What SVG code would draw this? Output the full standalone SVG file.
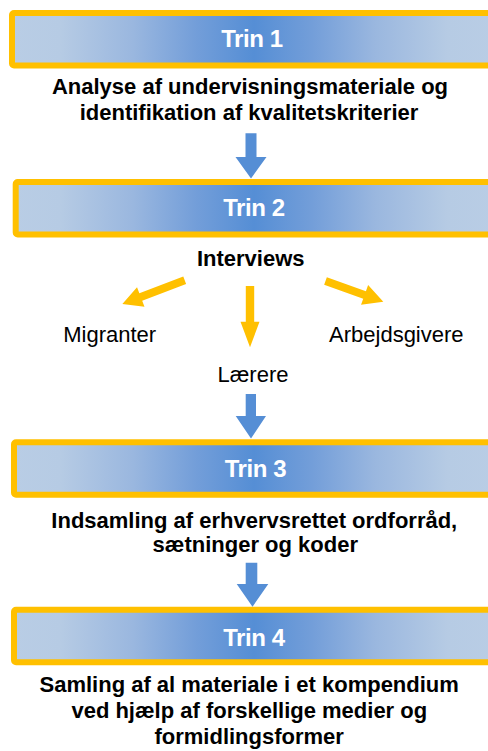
<svg xmlns="http://www.w3.org/2000/svg" width="488" height="751" viewBox="0 0 488 751">
<defs>
<linearGradient id="bar" gradientUnits="userSpaceOnUse" x1="12" y1="0" x2="496" y2="0">
<stop offset="0" stop-color="#b9cde5"/>
<stop offset="0.1" stop-color="#b6cbe4"/>
<stop offset="0.25" stop-color="#9ab7df"/>
<stop offset="0.38" stop-color="#739ed9"/>
<stop offset="0.5" stop-color="#558ed5"/>
<stop offset="0.62" stop-color="#739ed9"/>
<stop offset="0.75" stop-color="#9ab7df"/>
<stop offset="0.9" stop-color="#b6cbe4"/>
<stop offset="1" stop-color="#b9cde5"/>
</linearGradient>
<style>
.box{fill:url(#bar);stroke:#ffc000;stroke-width:6}
.ttl{font-family:"Liberation Sans",Arial,sans-serif;font-weight:bold;font-size:24px;fill:#ffffff;text-anchor:middle;letter-spacing:-0.4px}
.desc{font-family:"Liberation Sans",Arial,sans-serif;font-weight:bold;font-size:22px;fill:#000000;text-anchor:middle}
.lbl{font-family:"Liberation Sans",Arial,sans-serif;font-size:22px;fill:#000000;text-anchor:middle}
.blue{fill:#558ed5}
.orange{fill:#ffc000}
</style>
</defs>
<g id="trin1">
<rect class="box" x="12" y="13" width="490" height="52.5" rx="2"/>
<text class="ttl" x="252" y="47">Trin 1</text>
<text class="desc" x="250" y="94">Analyse af undervisningsmateriale og</text>
<text class="desc" x="249" y="119.5">identifikation af kvalitetskriterier</text>
</g>
<g id="trin2">
<rect class="box" x="15.7" y="182" width="490" height="52.5" rx="2"/>
<text class="ttl" x="254" y="215.5">Trin 2</text>
<text class="desc" x="250.7" y="266">Interviews</text>
</g>
<g id="migranter"><text class="lbl" x="109.7" y="341.5">Migranter</text></g>
<g id="laerere"><text class="lbl" x="253" y="381.5">Lærere</text></g>
<g id="arbejdsgivere"><text class="lbl" x="396.3" y="341.5">Arbejdsgivere</text></g>
<g id="trin3">
<rect class="box" x="14" y="442.3" width="490" height="52.5" rx="2"/>
<text class="ttl" x="255.5" y="476.5">Trin 3</text>
<text class="desc" x="254.3" y="527.5">Indsamling af erhvervsrettet ordforråd,</text>
<text class="desc" x="255.3" y="552">sætninger og koder</text>
</g>
<g id="trin4">
<rect class="box" x="14" y="609.7" width="490" height="52.5" rx="2"/>
<text class="ttl" x="254" y="645.5">Trin 4</text>
<text class="desc" x="249.2" y="691.5">Samling af al materiale i et kompendium</text>
<text class="desc" x="249.3" y="717.5">ved hjælp af forskellige medier og</text>
<text class="desc" x="249.2" y="744">formidlingsformer</text>
</g>
<g id="connectors">
<polygon class="blue" points="245.5,133.3 256.5,133.3 256.5,157 266.5,157 251,178.5 235.5,157 245.5,157"/>
<polygon class="blue" points="245.7,394 256,394 256,416 266,416 251,438.5 235.7,416 245.7,416"/>
<polygon class="blue" points="245.7,562.7 257.3,562.7 257.3,584 268.3,584 252.5,606.7 236.7,584 245.7,584"/>
<polygon class="orange" transform="translate(184.7,280.3) rotate(159.2)" points="0,-4 47,-4 47,-10.5 66.7,0 47,10.5 47,4 0,4"/>
<polygon class="orange" transform="translate(325.5,281) rotate(19.7)" points="0,-4 41.5,-4 41.5,-10.5 61.4,0 41.5,10.5 41.5,4 0,4"/>
<polygon class="orange" transform="translate(250,286) rotate(90)" points="0,-4.2 35.7,-4.2 35.7,-9.5 61.3,0 35.7,9.5 35.7,4.2 0,4.2"/>
</g>
</svg>
